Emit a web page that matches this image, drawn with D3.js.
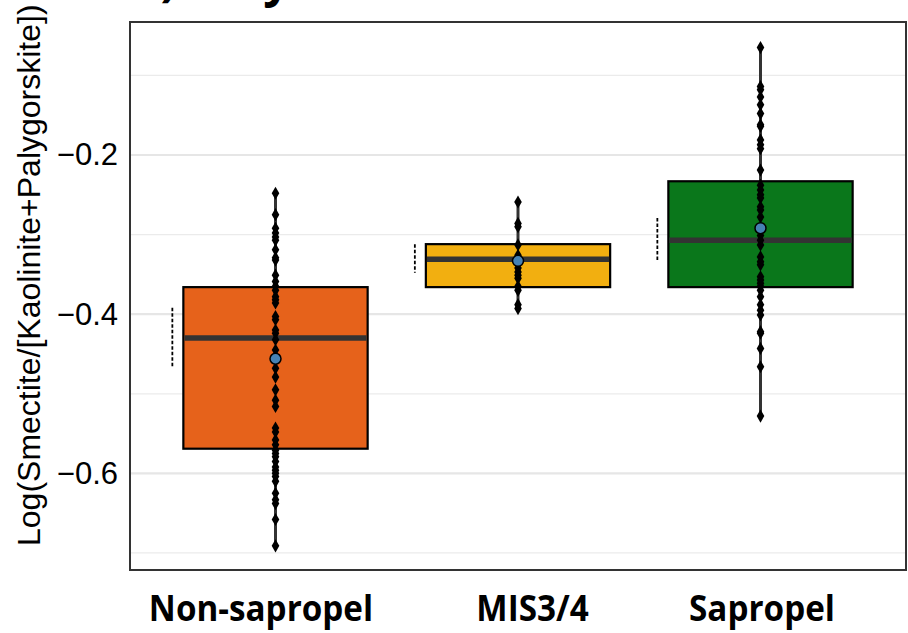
<!DOCTYPE html>
<html>
<head>
<meta charset="utf-8">
<script src="https://cdn.jsdelivr.net/npm/d3@7"></script>
<style>
  html, body { margin: 0; padding: 0; background: #fff; }
  svg { display: block; }
</style>
</head>
<body>
<svg id="chart" width="908" height="633"></svg>
<script>
// ---- data ----
const categories = ["Non-sapropel", "MIS3/4", "Sapropel"];
const boxColors = ["#E6621B", "#F2AF10", "#0A771B"];
const q1Values = [-0.569, -0.366, -0.366];
const medianValues = [-0.430, -0.331, -0.307];
const q3Values = [-0.366, -0.312, -0.233];
const minValues = [-0.691, -0.393, -0.528];
const maxValues = [-0.248, -0.259, -0.065];
const meanValues = [-0.456, -0.333, -0.292];
const ciLow = [-0.468, -0.348, -0.334];
const ciHigh = [-0.392, -0.312, -0.279];
const pointsNonSapropel = [-0.248, -0.275, -0.292, -0.298, -0.303, -0.307, -0.319, -0.329, -0.332,
  -0.351, -0.359, -0.365, -0.370, -0.378, -0.382, -0.386, -0.403, -0.407, -0.420, -0.424, -0.432,
  -0.445, -0.468, -0.479, -0.495, -0.508, -0.516, -0.543, -0.548, -0.558, -0.564, -0.571, -0.575,
  -0.579, -0.585, -0.592, -0.596, -0.600, -0.604, -0.610, -0.625, -0.633, -0.638, -0.658, -0.691];
const pointsMIS = [-0.259, -0.286, -0.290, -0.313, -0.326, -0.333, -0.342, -0.347, -0.351, -0.355,
  -0.365, -0.370, -0.388, -0.393];
const pointsSapropel = [-0.065, -0.114, -0.118, -0.127, -0.137, -0.148, -0.162, -0.164, -0.181,
  -0.187, -0.192, -0.219, -0.238, -0.244, -0.250, -0.254, -0.265, -0.269, -0.278, -0.292, -0.301,
  -0.307, -0.313, -0.328, -0.334, -0.338, -0.353, -0.357, -0.361, -0.365, -0.370, -0.378, -0.388,
  -0.395, -0.401, -0.422, -0.424, -0.443, -0.466, -0.528];
const pointGroups = [pointsNonSapropel, pointsMIS, pointsSapropel];
const majorTicks = [-0.6, -0.4, -0.2];
const minorTicks = [-0.7, -0.5, -0.3, -0.1];
const yTitle = "Log(Smectite/[Kaolinite+Palygorskite])";
const chartTitle = "b) Clay minerals";

// ---- layout ----
const svg = d3.select("#chart");
const L = 130, R = 906, T = 22, B = 570;
const labelShift = [-15, 14, 1]; // x-label nudges as placed in the reference

const x = d3.scalePoint().domain(categories).range([L, R]).padding(0.6);
const y = d3.scaleLinear().domain([-0.7214, -0.0329]).range([B, T]);
const step = x.step();
const boxW = step * 0.76;

// title (mostly cut off at top, as in the reference)
svg.append("text").attr("x", 130).attr("y", -4)
  .attr("font-family", "Open Sans, sans-serif").attr("font-weight", 700)
  .attr("font-size", 48).attr("fill", "#000").text(chartTitle);

// gridlines
const g = svg.append("g");
g.selectAll(".minor").data(minorTicks).enter().append("line")
  .attr("x1", L).attr("x2", R).attr("y1", d => y(d)).attr("y2", d => y(d))
  .attr("stroke", "#ebebeb").attr("stroke-width", 1.2);
g.selectAll(".major").data(majorTicks).enter().append("line")
  .attr("x1", L).attr("x2", R).attr("y1", d => y(d)).attr("y2", d => y(d))
  .attr("stroke", "#e6e6e6").attr("stroke-width", 2.2);

// y axis labels
const yAxis = d3.axisLeft(y).tickValues(majorTicks).tickSize(0).tickPadding(12)
  .tickFormat(d => d3.format(".1f")(d).replace("-", "\u2212"));
const ya = svg.append("g").attr("transform", `translate(${L},0)`).call(yAxis);
ya.select(".domain").remove();
ya.selectAll("text").attr("font-family", "Liberation Sans, Arial, sans-serif")
  .attr("font-size", 31).attr("fill", "#000");

// y title
svg.append("text")
  .attr("transform", `translate(40,546) rotate(-90)`)
  .attr("text-anchor", "start")
  .attr("font-family", "Liberation Sans, Arial, sans-serif")
  .attr("font-size", 32).attr("fill", "#000").text(yTitle);

// x labels (bold, slightly condensed)
const xAxis = d3.axisBottom(x).tickSize(0).tickPadding(0);
const xa = svg.append("g").attr("transform", `translate(0,${B})`).call(xAxis);
xa.select(".domain").remove();
xa.selectAll(".tick text").attr("dy", null).attr("y", 0)
  .attr("transform", (d, i) => `translate(${labelShift[i]},51) scale(0.95,1)`)
  .attr("font-family", "Open Sans, sans-serif").attr("font-weight", 700)
  .attr("font-size", 35).attr("fill", "#000");

// boxes
const groups = svg.append("g").selectAll("g").data(categories).enter().append("g");
groups.append("line")
  .attr("x1", d => x(d)).attr("x2", d => x(d))
  .attr("y1", (d, i) => y(maxValues[i])).attr("y2", (d, i) => y(minValues[i]))
  .attr("stroke", "#333").attr("stroke-width", 3);
groups.append("rect")
  .attr("x", d => x(d) - boxW / 2).attr("width", boxW)
  .attr("y", (d, i) => y(q3Values[i]))
  .attr("height", (d, i) => y(q1Values[i]) - y(q3Values[i]))
  .attr("fill", (d, i) => boxColors[i]).attr("stroke", "#000").attr("stroke-width", 2.2);
groups.append("line")
  .attr("x1", d => x(d) - boxW / 2 + 1).attr("x2", d => x(d) + boxW / 2 - 1)
  .attr("y1", (d, i) => y(medianValues[i])).attr("y2", (d, i) => y(medianValues[i]))
  .attr("stroke", "#333").attr("stroke-width", 5.5);

// points
const diamond = d3.symbol().type(d3.symbolDiamond).size(50);
groups.each(function (d, i) {
  d3.select(this).selectAll("path.pt").data(pointGroups[i]).enter().append("path")
    .attr("class", "pt")
    .attr("transform", v => `translate(${x(d)},${y(v)})`)
    .attr("d", diamond).attr("fill", "#000");
});

// mean
groups.append("circle")
  .attr("cx", d => x(d)).attr("cy", (d, i) => y(meanValues[i]))
  .attr("r", 5.5).attr("fill", "#4682B4").attr("stroke", "#000").attr("stroke-width", 1.5);

// CI dashed line
groups.append("line")
  .attr("x1", d => x(d) - boxW / 2 - 11).attr("x2", d => x(d) - boxW / 2 - 11)
  .attr("y1", (d, i) => y(ciHigh[i])).attr("y2", (d, i) => y(ciLow[i]))
  .attr("stroke", "#000").attr("stroke-width", 1.8).attr("stroke-dasharray", "3.5,2");

// panel border
svg.append("rect").attr("x", L).attr("y", T).attr("width", R - L).attr("height", B - T)
  .attr("fill", "none").attr("stroke", "#333").attr("stroke-width", 2);
</script>
</body>
</html>
